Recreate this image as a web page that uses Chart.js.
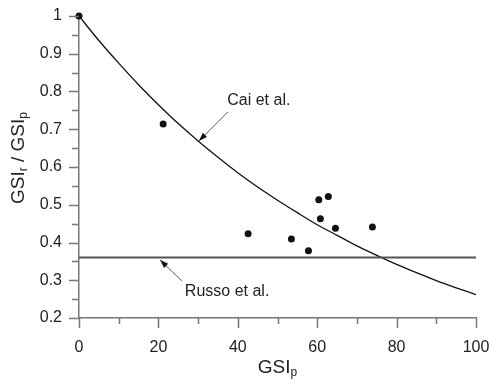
<!DOCTYPE html>
<html><head><meta charset="utf-8">
<script src="https://cdn.jsdelivr.net/npm/chart.js@4.4.1/dist/chart.umd.min.js"></script>
<style>html,body{margin:0;padding:0;background:#fff}#wrap{width:491px;height:380px}</style>
</head><body><div id="wrap"><canvas id="c" width="491" height="380"></canvas></div>
<script>
// Measured points (GSIp, GSIr/GSIp)
const obsX = [0, 21.2, 42.6, 53.5, 57.8, 60.4, 62.8, 60.8, 64.6, 73.9];
const obsY = [1.0, 0.714, 0.423, 0.409, 0.378, 0.513, 0.522, 0.463, 0.438, 0.441];
// Cai et al. curve
const caiX = [0, 5, 10, 15, 20, 25, 30, 35, 40, 45, 50, 55, 60, 65, 70, 75, 80, 85, 90, 95, 100];
const caiY = [1.0, 0.935, 0.875, 0.818, 0.765, 0.715, 0.669, 0.626, 0.585, 0.547, 0.512, 0.479, 0.447, 0.419, 0.391, 0.366, 0.342, 0.320, 0.299, 0.280, 0.262];
// Russo et al. constant ratio
const russoX = [0, 100];
const russoY = [0.36, 0.36];
const xTicks = [0, 20, 40, 60, 80, 100];
const yTicks = [0.2, 0.3, 0.4, 0.5, 0.6, 0.7, 0.8, 0.9, 1];
const annotations = [
  {text: 'Cai et al.', tx: 45.3, ty: 0.775, x1: 37.5, y1: 0.746, x2: 30.2, y2: 0.669},
  {text: 'Russo et al.', tx: 37.3, ty: 0.269, x1: 25.9, y1: 0.298, x2: 20.4, y2: 0.354}
];

const FONT = '"Liberation Sans", Arial, sans-serif';
const toPts = (xs, ys) => xs.map((x, i) => ({x, y: ys[i]}));

const decor = {
  id: 'decor',
  afterDraw(chart) {
    const ctx = chart.ctx, xs = chart.scales.x, ys = chart.scales.y;
    const L = chart.chartArea.left, B = chart.chartArea.bottom;
    ctx.save();
    ctx.strokeStyle = '#777';
    ctx.lineWidth = 1.5;
    for (let v = 0.2; v <= 1.0001; v += 0.05) {
      const major = Math.abs(Math.round(v * 10) - v * 10) < 1e-6;
      const p = Math.round(ys.getPixelForValue(v)) + 0.5;
      ctx.beginPath(); ctx.moveTo(L - (major ? 10 : 7), p); ctx.lineTo(L, p); ctx.stroke();
    }
    for (let v = 0; v <= 100; v += 10) {
      const major = v % 20 === 0;
      const p = Math.round(xs.getPixelForValue(v)) + 0.5;
      ctx.beginPath(); ctx.moveTo(p, B); ctx.lineTo(p, B + (major ? 10 : 6)); ctx.stroke();
    }
    ctx.font = '16px ' + FONT;
    ctx.fillStyle = '#222';
    ctx.textAlign = 'center'; ctx.textBaseline = 'middle';
    annotations.forEach(a => {
      ctx.fillText(a.text, xs.getPixelForValue(a.tx), ys.getPixelForValue(a.ty));
      const x1 = xs.getPixelForValue(a.x1), y1 = ys.getPixelForValue(a.y1);
      const x2 = xs.getPixelForValue(a.x2), y2 = ys.getPixelForValue(a.y2);
      ctx.strokeStyle = '#555'; ctx.lineWidth = 1;
      ctx.beginPath(); ctx.moveTo(x1, y1); ctx.lineTo(x2, y2); ctx.stroke();
      const ang = Math.atan2(y2 - y1, x2 - x1), len = 9, w = 0.33;
      ctx.fillStyle = '#111';
      ctx.beginPath();
      ctx.moveTo(x2, y2);
      ctx.lineTo(x2 - len * Math.cos(ang - w), y2 - len * Math.sin(ang - w));
      ctx.lineTo(x2 - len * Math.cos(ang + w), y2 - len * Math.sin(ang + w));
      ctx.closePath(); ctx.fill();
      ctx.fillStyle = '#222';
    });
    const drawSub = (parts, cx, cy, rot) => {
      ctx.save();
      ctx.translate(cx, cy); ctx.rotate(rot);
      let total = 0;
      parts.forEach(p => { ctx.font = (p.sub ? '12px ' : '19px ') + FONT; total += ctx.measureText(p.t).width; });
      let x = -total / 2;
      ctx.textAlign = 'left'; ctx.textBaseline = 'alphabetic'; ctx.fillStyle = '#222';
      parts.forEach(p => {
        ctx.font = (p.sub ? '12px ' : '19px ') + FONT;
        ctx.fillText(p.t, x, p.sub ? 10 : 7);
        x += ctx.measureText(p.t).width;
      });
      ctx.restore();
    };
    drawSub([{t:'GSI'},{t:'p',sub:true}], xs.getPixelForValue(50), 366, 0);
    drawSub([{t:'GSI'},{t:'r',sub:true},{t:' / GSI'},{t:'p',sub:true}], 17, 158, -Math.PI / 2);
    ctx.restore();
  }
};

new Chart(document.getElementById('c'), {
  type: 'scatter',
  data: {
    datasets: [
      {data: toPts(russoX, russoY), showLine: true, borderColor: '#555', borderWidth: 2, pointRadius: 0, fill: false},
      {data: toPts(caiX, caiY), showLine: true, borderColor: '#111', borderWidth: 1.3, pointRadius: 0, tension: 0.3, fill: false},
      {data: toPts(obsX, obsY), backgroundColor: '#111', borderColor: '#111', pointRadius: 3.5, borderWidth: 0, clip: false}
    ]
  },
  options: {
    responsive: false, animation: false,
    layout: {padding: {top: 16, right: 15, left: 0, bottom: 0}},
    plugins: {legend: {display: false}, tooltip: {enabled: false}},
    scales: {
      x: {
        type: 'linear', min: 0, max: 100,
        afterBuildTicks: s => { s.ticks = xTicks.map(v => ({value: v})); },
        afterFit: s => { s.height = 62; s.paddingLeft = 0; s.paddingRight = 0; },
        grid: {display: false, drawTicks: false},
        border: {display: true, color: '#777', width: 1.5},
        ticks: {color: '#222', font: {size: 16, family: FONT}, padding: 20, maxRotation: 0}
      },
      y: {
        type: 'linear', min: 0.2, max: 1,
        afterBuildTicks: s => { s.ticks = yTicks.map(v => ({value: v})); },
        afterFit: s => { s.width = 79; s.paddingTop = 0; s.paddingBottom = 0; },
        grid: {display: false, drawTicks: false},
        border: {display: true, color: '#777', width: 1.5},
        ticks: {color: '#222', font: {size: 16, family: FONT}, padding: 17, callback: v => String(Math.round(v * 10) / 10)}
      }
    }
  },
  plugins: [decor]
});
</script></body></html>
